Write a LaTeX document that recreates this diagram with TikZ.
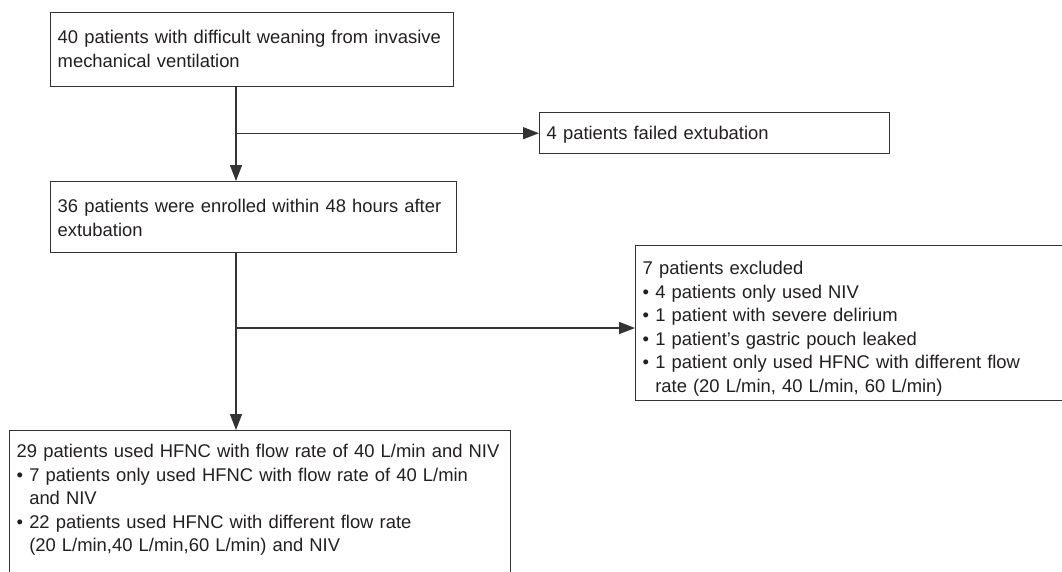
\documentclass[tikz,border=0pt]{standalone}
\usepackage{fontspec}
\setmainfont{Liberation Sans}
\usetikzlibrary{arrows.meta}
\definecolor{ink}{HTML}{231F20}
\definecolor{linegrey}{HTML}{333333}
% struts that fix the gap above the first and below the last baseline
\newcommand{\strutup}[1]{\rule{0pt}{#1pt}}
\newcommand{\strutdn}[1]{\rule[-#1pt]{0pt}{#1pt}}
\newcommand{\bul}{\textbullet\ }
\newcommand{\ind}{\hphantom{\textbullet\ }}
\newcommand{\boxfont}{\fontsize{18.4}{23.5}\selectfont\hyphenpenalty=10000\relax}

\begin{document}
\begin{tikzpicture}[x=1pt,y=-1pt,
box/.style={draw=linegrey,line width=1.4pt,anchor=north west,align=left,
  inner xsep=7pt,inner ysep=0pt,text=ink,font=\boxfont},
arr/.style={draw=linegrey,line width=1.4pt,-{Triangle[length=16pt,width=12pt]}}]
\fill[white] (0,0) rectangle (1062,571);
\useasboundingbox (0,0) rectangle (1062,571);
\clip (0,0) rectangle (1062,571);

\node[box,text width=389pt] (start) at (50,12)
{\strutup{31}40 patients with difficult weaning from invasive\\
mechanical ventilation\strutdn{19.5}};
\node[box,text width=336pt] (failed) at (539,112)
{\strutup{27}4 patients failed extubation\strutdn{14}};
\node[box,text width=392pt] (enrol) at (50,181)
{\strutup{31}36 patients were enrolled within 48 hours after\\
extubation\strutdn{16.5}};
\node[box,text width=434pt] (excluded) at (635,245)
{\strutup{29}7 patients excluded\\
\bul 4 patients only used NIV\\
\bul 1 patient with severe delirium\\
\bul 1 patient’s gastric pouch leaked\\
\bul 1 patient only used HFNC with different flow\\
\ind rate (20 L/min, 40 L/min, 60 L/min)\strutdn{8.5}};
\node[box,text width=487pt] (analysed) at (9,430)
{\strutup{27}29 patients used HFNC with flow rate of 40 L/min and NIV\\
\bul 7 patients only used HFNC with flow rate of 40 L/min\\
\ind and NIV\\
\bul 22 patients used HFNC with different flow rate\\
\ind (20 L/min,40 L/min,60 L/min) and NIV\strutdn{30}};

% main line and side branches
\coordinate (trunk) at (236,0);
\coordinate (br2) at (236,328);
\draw[arr] (start.south -| trunk) -- (enrol.north -| trunk);
\draw[arr] (trunk |- failed.west) -- (failed.west);
\draw[arr] (enrol.south -| trunk) -- (analysed.north -| trunk);
\draw[arr] (br2) -- (br2 -| excluded.west);
\end{tikzpicture}
\end{document}
